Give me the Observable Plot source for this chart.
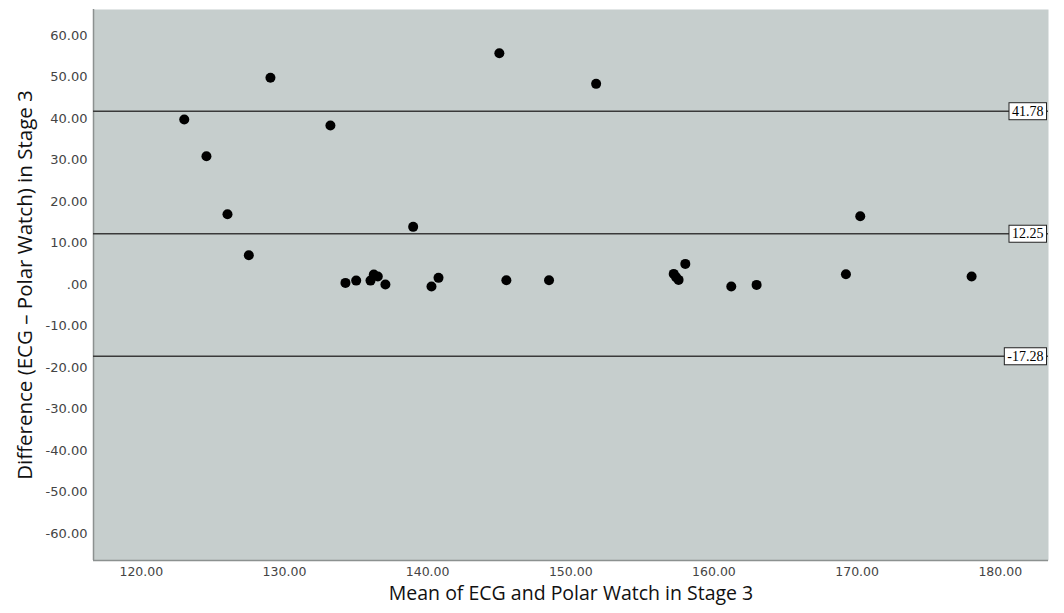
<!DOCTYPE html>
<html><head><meta charset="utf-8">
<script src="https://cdn.jsdelivr.net/npm/d3@7"></script>
<script src="https://cdn.jsdelivr.net/npm/@observablehq/plot@0.6"></script>
<style>body{margin:0;background:#fff}</style>
</head><body><div id="chart"></div>
<script>
const meanValues = [123.0, 124.55, 126.02, 127.51, 129.02, 133.21, 138.99, 134.26, 135.01, 136.01, 136.24, 136.52, 137.05, 140.27, 140.76, 145.01, 145.50, 148.48, 151.77, 158.00, 157.19, 157.53, 157.35, 161.21, 162.98, 169.22, 170.22, 178.0];
const diffValues = [39.78, 30.93, 16.95, 7.06, 49.83, 38.33, 13.91, 0.41, 0.96, 0.96, 2.41, 1.93, 0.0, -0.48, 1.62, 55.76, 1.04, 1.04, 48.38, 4.99, 2.58, 1.13, 1.8, -0.48, -0.07, 2.48, 16.47, 1.93];
const refLines = [41.78, 12.25, -17.28];
const refLabels = ["41.78", "12.25", "-17.28"];
const xTicks = [120, 130, 140, 150, 160, 170, 180];
const yTicks = [60, 50, 40, 30, 20, 10, 0, -10, -20, -30, -40, -50, -60];
const xTitle = "Mean of ECG and Polar Watch in Stage 3";
const yTitle = "Difference (ECG \u2013 Polar Watch) in Stage 3";
const xDomain = [116.66, 183.37];
const yDomain = [-66.5, 66.3];

const points = meanValues.map((m, i) => ({mean: m, diff: diffValues[i]}));
const refs = refLines.map((v, i) => ({value: v, label: refLabels[i]}));
const fmt = d => d === 0 ? ".00" : d.toFixed(2);

const chart = Plot.plot({
  width: 1064, height: 613,
  marginLeft: 93, marginRight: 16, marginTop: 9, marginBottom: 53,
  x: {domain: xDomain},
  y: {domain: yDomain},
  style: {fontFamily: "Open Sans", background: "#fff", overflow: "visible"},
  marks: [
    Plot.frame({fill: "#c6cecd", stroke: null}),
    Plot.axisX(xTicks, {tickSize: 0, tickPadding: 7, tickFormat: fmt, fontSize: 12.5, fontFamily: "DejaVu Sans", fill: "#444", label: null}),
    Plot.axisY(yTicks, {tickSize: 0, tickPadding: 6, tickFormat: fmt, fontSize: 13, fontFamily: "DejaVu Sans", fill: "#444", label: null}),
    Plot.ruleX([xDomain[0]], {stroke: "#8c9190", strokeWidth: 1.5}),
    Plot.ruleY([yDomain[0]], {stroke: "#8c9190", strokeWidth: 1.5}),
    Plot.ruleY(refs, {y: "value", stroke: "#3a3a3a", strokeWidth: 1.6}),
    Plot.dot(points, {x: "mean", y: "diff", r: 5, fill: "#000", stroke: null}),
    Plot.text(refs, {x: () => xDomain[1], y: "value", text: "label", textAnchor: "end", dx: -5,
      fontFamily: "Liberation Serif", fontSize: 14, fill: "#000", className: "reflabel"}),
    Plot.text([xTitle], {frameAnchor: "bottom", dy: 39, fontSize: 19.5, fill: "#111"}),
    Plot.text([yTitle], {frameAnchor: "left", dx: -68, rotate: -90, textAnchor: "middle", fontSize: 20.5, fill: "#111"})
  ]
});
document.getElementById("chart").append(chart);

// white boxes behind reference-line labels
d3.select(chart).selectAll("g.reflabel text").each(function() {
  const b = this.getBBox();
  const r = document.createElementNS("http://www.w3.org/2000/svg", "rect");
  r.setAttribute("x", b.x - 3);
  r.setAttribute("y", b.y - 1);
  r.setAttribute("width", b.width + 6);
  r.setAttribute("height", b.height + 2);
  r.setAttribute("fill", "#fff");
  r.setAttribute("stroke", "#222");
  r.setAttribute("stroke-width", 1);
  const t = this.getAttribute("transform");
  if (t) r.setAttribute("transform", t);
  this.parentNode.insertBefore(r, this);
});
</script>
</body></html>
